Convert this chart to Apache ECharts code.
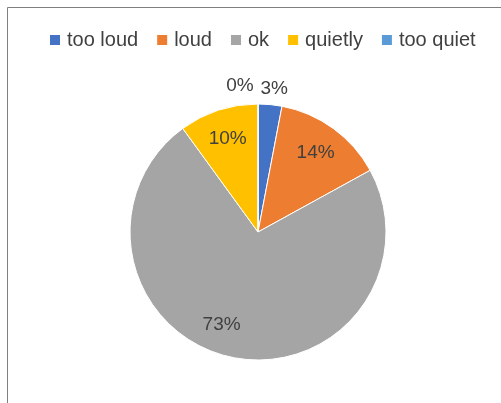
<!DOCTYPE html>
<html>
<head>
<meta charset="utf-8">
<script src="https://cdn.jsdelivr.net/npm/echarts@6/dist/echarts.min.js"></script>
<style>
  html, body { margin: 0; padding: 0; background: #ffffff; }
  #chart { width: 501px; height: 403px; }
</style>
</head>
<body>
<div id="chart"></div>
<script>
// Survey answers: how loud it was
const categories = ['too loud', 'loud', 'ok', 'quietly', 'too quiet'];
const shares = [3, 14, 73, 10, 0];
const colors = ['#4472C4', '#ED7D31', '#A5A5A5', '#FFC000', '#5B9BD5'];

const pieCenter = [258, 232];
const pieRadius = 128;
const fontFamily = 'Liberation Sans, Arial, sans-serif';
const labelFont = { fontFamily: fontFamily, fontSize: 19, color: '#404040' };

const sliceData = categories.map((name, i) => ({
  name: name,
  value: shares[i],
  itemStyle: { color: colors[i] }
}));

// Per-label nudges, roughly where a spreadsheet's "best fit" puts them
const labelNudge = {
  'too loud': { position: 'outside', offset: [-16, 0] },
  'ok': { offset: [-15, -3] },
  'too quiet': { position: 'inside', offset: [-18, -48] }
};

// Labels sit on a transparent ring so inside labels land at ~3/4 of the radius
const labelData = categories.map((name, i) => {
  const item = { name: name, value: shares[i] };
  if (labelNudge[name]) item.label = labelNudge[name];
  return item;
});

const chart = echarts.init(document.getElementById('chart'), null, { renderer: 'canvas' });
chart.setOption({
  animation: false,
  color: colors,
  legend: {
    data: categories,
    top: 30,
    left: 50,
    padding: 0,
    icon: 'rect',
    itemWidth: 10,
    itemHeight: 10,
    itemGap: 19,
    itemStyle: { borderWidth: 0 },
    textStyle: { fontFamily: fontFamily, fontSize: 20, color: '#404040', padding: [0, 0, 0, 2] }
  },
  graphic: [{
    type: 'rect',
    shape: { x: 7.5, y: 7.5, width: 600, height: 600 },
    style: { fill: 'none', stroke: '#808080', lineWidth: 1 },
    silent: true
  }],
  series: [{
    type: 'pie',
    center: pieCenter,
    radius: [0, pieRadius],
    startAngle: 90,
    clockwise: true,
    minAngle: 0,
    label: { show: false },
    labelLine: { show: false },
    itemStyle: { borderColor: '#ffffff', borderWidth: 1 },
    emphasis: { disabled: true },
    data: sliceData
  }, {
    type: 'pie',
    center: pieCenter,
    radius: [62, pieRadius],
    startAngle: 90,
    clockwise: true,
    silent: true,
    legendHoverLink: false,
    avoidLabelOverlap: false,
    minShowLabelAngle: 0,
    itemStyle: { color: 'rgba(0,0,0,0)', borderWidth: 0 },
    label: Object.assign({ show: true, position: 'inside', formatter: '{c}%' }, labelFont),
    labelLine: { show: false, length: 16, length2: 0 },
    emphasis: { disabled: true },
    data: labelData
  }]
});
</script>
</body>
</html>
